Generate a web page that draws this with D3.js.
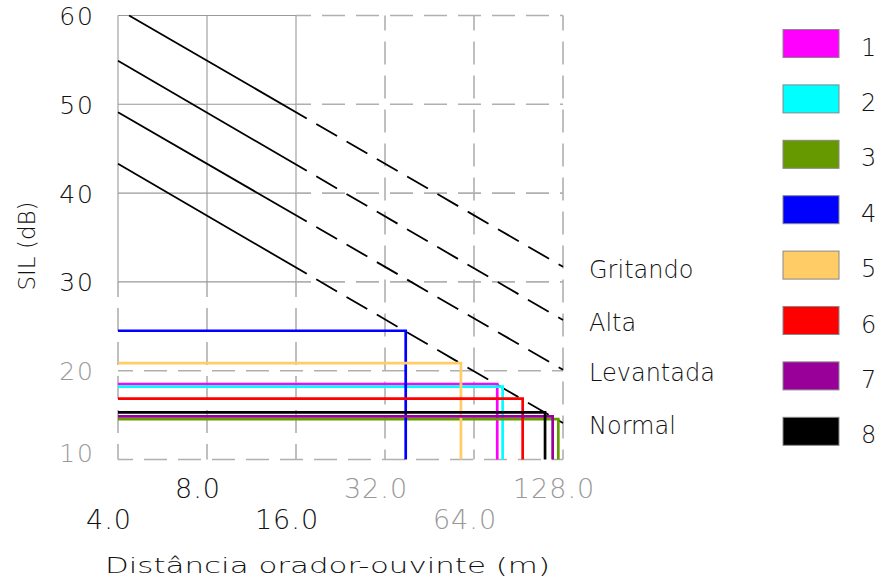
<!DOCTYPE html>
<head>
  <meta charset="utf-8">
  <script src="https://d3js.org/d3.v7.min.js"></script>
  <style>
    body { margin:0; background:#fff; }
    text { font-family: "DejaVu Sans", sans-serif; font-weight: 200; }
  </style>
</head>
<body>
<script>
// series (legend order)
var series  = ["1", "2", "3", "4", "5", "6", "7", "8"];
var colors  = ["#ff00ff", "#00ffff", "#669900", "#0000ff", "#ffcc66", "#ff0000", "#990099", "#000000"];
var silDb   = [18.5, 18.2, 14.55, 24.5, 20.85, 16.85, 14.85, 15.3];
var distM   = [76.7, 80.0, 123.4, 37.6, 57.8, 93.5, 118.1, 111.3];

// voice effort lines
var voices     = ["Gritando", "Alta", "Levantada", "Normal"];
var voiceD0    = [4.36, 4, 4, 4];
var voiceSil0  = [60, 54.9, 49.1, 43.3];
var voiceD1    = [128, 128, 128, 128];
var voiceSil1  = [31.7, 25.7, 20.1, 14.1];
var solidUntil = 17.4;   // distance where lines turn dashed

// axis ticks
var xTicks = [4, 8, 16, 32, 64, 128];
var xTickLabels = ["4.0", "8.0", "16.0", "32.0", "64.0", "128.0"];
var yTicks = [10, 20, 30, 40, 50, 60];

var width = 882, height = 582;
var svg = d3.select("body").append("svg")
  .attr("width", width)
  .attr("height", height);

var x = d3.scaleLog().base(2).domain([4, 128]).range([118, 563]);
var y = d3.scaleLinear().domain([10, 60]).range([459.5, 15.5]);

var grid = svg.append("g");
function gline(x1, y1, x2, y2, dashed) {
  grid.append("line")
    .attr("x1", x1).attr("y1", y1).attr("x2", x2).attr("y2", y2)
    .attr("stroke", dashed ? "#b0b0b0" : "#999")
    .attr("stroke-width", dashed ? 1.6 : 1.1)
    .attr("stroke-dasharray", dashed ? "23,11" : null)
    .attr("stroke-dashoffset", dashed ? 8 : null);
}
xTicks.forEach(function(d) {
  if (d <= 16) {
    gline(x(d), y(60), x(d), y(30), false);
    gline(x(d), y(30), x(d), y(10), true);
  } else {
    gline(x(d), y(60), x(d), y(10), true);
  }
});
yTicks.forEach(function(v) {
  if (v >= 30) {
    gline(x(4), y(v), x(16), y(v), false);
    gline(x(16), y(v), x(128), y(v), true);
  } else {
    gline(x(4), y(v), x(128), y(v), true);
  }
});

// voice lines
voices.forEach(function(name, i) {
  var p0 = [x(voiceD0[i]), y(voiceSil0[i])];
  var p1 = [x(voiceD1[i]), y(voiceSil1[i])];
  var t = (x(solidUntil) - p0[0]) / (p1[0] - p0[0]);
  var pm = d3.interpolate(p0, p1)(t);
  svg.append("line")
    .attr("x1", p0[0]).attr("y1", p0[1]).attr("x2", pm[0]).attr("y2", pm[1])
    .attr("stroke", "#000").attr("stroke-width", 1.8);
  svg.append("line")
    .attr("x1", pm[0]).attr("y1", pm[1]).attr("x2", p1[0]).attr("y2", p1[1])
    .attr("stroke", "#000").attr("stroke-width", 1.8)
    .attr("stroke-dasharray", "24,11").attr("stroke-dashoffset", 24);
  svg.append("text")
    .attr("x", 589).attr("y", y(voiceSil1[i]) + 11)
    .attr("font-size", 24).attr("fill", "#111")
    .text(name);
});

// series paths: horizontal at SIL, then down to 10 dB
series.forEach(function(s, i) {
  var pts = [[4, silDb[i]], [distM[i], silDb[i]], [distM[i], 10]];
  svg.append("path")
    .attr("d", d3.line().x(function(p) { return x(p[0]); }).y(function(p) { return y(p[1]); })(pts))
    .attr("fill", "none")
    .attr("stroke", colors[i])
    .attr("stroke-width", 2.7);
});

// y tick labels
yTicks.forEach(function(v, i) {
  svg.append("text")
    .attr("x", 95).attr("y", y(v) + (i === 0 ? 2 : 9.5))
    .attr("text-anchor", "end")
    .attr("font-size", 25)
    .attr("letter-spacing", 2)
    .attr("fill", v < 30 ? "#999" : "#111")
    .text(v);
});
svg.append("text")
  .attr("transform", "translate(35,246) rotate(-90)")
  .attr("text-anchor", "middle")
  .attr("font-size", 23).attr("fill", "#111")
  .text("SIL (dB)");

// x tick labels (staggered)
xTicks.forEach(function(d, i) {
  svg.append("text")
    .attr("x", x(d) - 9)
    .attr("y", i % 2 === 1 ? 498 : 529)
    .attr("text-anchor", "middle")
    .attr("font-size", 27)
    .attr("letter-spacing", 1)
    .attr("fill", d > 16 ? "#999" : "#111")
    .text(xTickLabels[i]);
});
svg.append("text")
  .attr("x", 105).attr("y", 573)
  .attr("font-size", 21).attr("fill", "#111")
  .attr("textLength", 445).attr("lengthAdjust", "spacingAndGlyphs")
  .text("Distância orador-ouvinte (m)");

// legend
var legend = svg.append("g");
series.forEach(function(s, i) {
  var cy = 43.5 + i * 55.4;
  legend.append("rect")
    .attr("x", 783).attr("y", cy - 14)
    .attr("width", 56).attr("height", 28)
    .attr("fill", colors[i])
    .attr("stroke", "#888").attr("stroke-width", 1);
  legend.append("text")
    .attr("x", 861).attr("y", cy + 12)
    .attr("font-size", 24).attr("fill", "#111")
    .text(s);
});
</script>
</body>
